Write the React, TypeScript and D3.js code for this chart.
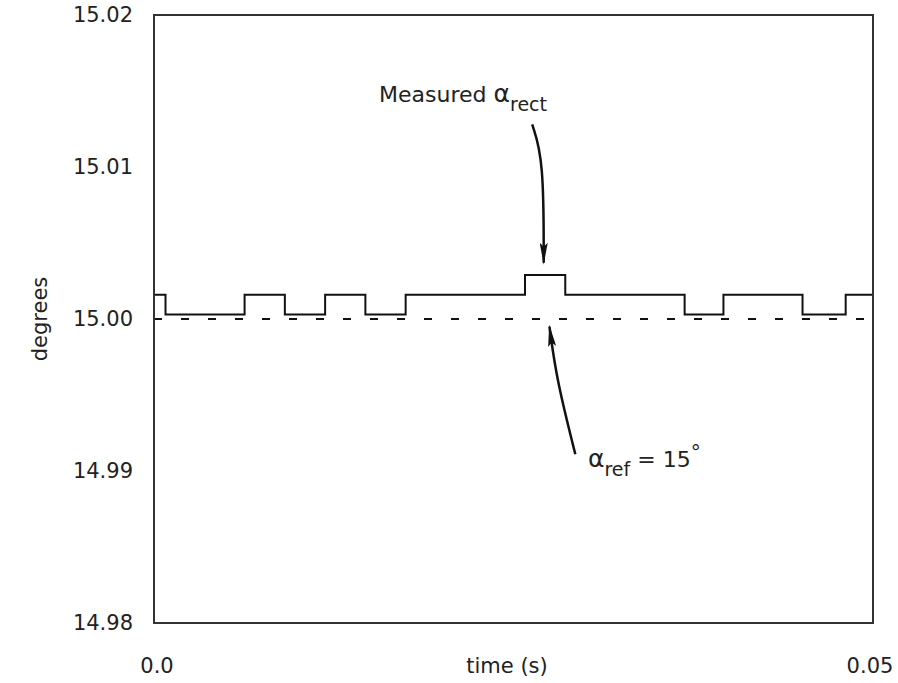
import React from 'react';
import * as d3 from 'd3';

// y axis ticks (degrees) and x axis ticks (seconds)
const yTicks = [15.02, 15.01, 15.0, 14.99, 14.98];
const yTickLabels = ['15.02', '15.01', '15.00', '14.99', '14.98'];
const xTicks = [0, 0.05];
const xTickLabels = ['0.0', '0.05'];

// measured alpha_rect: step changes (time of each change, level after it)
const stepTimes = [0, 0.0008, 0.0063, 0.0091, 0.0119, 0.0147, 0.0175, 0.0258, 0.0286, 0.0369, 0.0396, 0.0451, 0.0481, 0.05];
const stepValues = [15.0016, 15.0003, 15.0016, 15.0003, 15.0016, 15.0003, 15.0016, 15.0029, 15.0016, 15.0003, 15.0016, 15.0003, 15.0016, 15.0016];

// reference level
const refValue = 15.0;

// annotation arrows: [time, degrees] points, last one is the tip
const measuredArrow: [number, number][] = [[0.0263, 15.0128], [0.0271, 15.0105], [0.0271, 15.0037]];
const refArrow: [number, number][] = [[0.0293, 14.9911], [0.0280, 14.9960], [0.0275, 14.9995]];
const measuredLabelAt: [number, number] = [0.01565, 15.01428];
const refLabelAt: [number, number] = [0.03018, 14.99026];

const App = () => {
  const width = 898;
  const height = 683;
  const margin = { top: 15, right: 25, bottom: 60, left: 154 };

  const x = d3.scaleLinear().domain([0, 0.05]).range([margin.left, width - margin.right]);
  const y = d3.scaleLinear().domain([14.98, 15.02]).range([height - margin.bottom, margin.top]);

  const stepLine = d3.line<number>()
    .x((_, i) => x(stepTimes[i]))
    .y(d => y(d))
    .curve(d3.curveStepAfter);

  const arrowLine = d3.line<[number, number]>()
    .x(d => x(d[0]))
    .y(d => y(d[1]))
    .curve(d3.curveBasis);

  const font = '"DejaVu Sans", Verdana, sans-serif';
  const textColor = '#222';

  return (
    <svg width={width} height={height} style={{ position: 'absolute', left: 0, top: 0, background: '#fff' }}>
      <defs>
        <marker id="head" viewBox="0 0 22 8" refX="20" refY="4" markerWidth="22" markerHeight="8" orient="auto" markerUnits="userSpaceOnUse">
          <path d="M0,0 L22,4 L0,8 L4,4 Z" fill="#111" />
        </marker>
      </defs>

      {/* reference line */}
      <line x1={x(0)} x2={x(0.05)} y1={y(refValue)} y2={y(refValue)} stroke="#111" strokeWidth={2} strokeDasharray="8 19" />

      {/* measured alpha */}
      <path d={stepLine(stepValues) || ''} fill="none" stroke="#111" strokeWidth={2} />

      {/* frame */}
      <rect x={x(0)} y={y(15.02)} width={x(0.05) - x(0)} height={y(14.98) - y(15.02)} fill="none" stroke="#333" strokeWidth={2} />

      {/* y ticks */}
      {yTicks.map((t, i) => (
        <text key={t} x={133} y={y(t)} dy="0.35em" textAnchor="end" fontFamily={font} fontSize={21} fill={textColor}>{yTickLabels[i]}</text>
      ))}
      {/* x ticks */}
      {xTicks.map((t, i) => (
        <text key={t} x={x(t) + (i === 0 ? 3 : -3)} y={673} textAnchor="middle" fontFamily={font} fontSize={21} fill={textColor}>{xTickLabels[i]}</text>
      ))}

      <text x={507} y={673} textAnchor="middle" fontFamily={font} fontSize={21} fill={textColor}>time (s)</text>
      <text transform={`translate(47,${y(15.0)}) rotate(-90)`} textAnchor="middle" fontFamily={font} fontSize={21} fill={textColor}>degrees</text>

      {/* annotations */}
      <path d={arrowLine(measuredArrow) || ''} fill="none" stroke="#111" strokeWidth={2.5} markerEnd="url(#head)" />
      <path d={arrowLine(refArrow) || ''} fill="none" stroke="#111" strokeWidth={2.5} markerEnd="url(#head)" />

      <text x={x(measuredLabelAt[0])} y={y(measuredLabelAt[1])} fontFamily={font} fontSize={22} fill={textColor}>
        Measured <tspan fontSize={25}>α</tspan><tspan fontSize={19} dy={9}>rect</tspan>
      </text>
      <text x={x(refLabelAt[0])} y={y(refLabelAt[1])} fontFamily={font} fontSize={22} fill={textColor}>
        <tspan fontSize={25}>α</tspan><tspan fontSize={19} dy={9}>ref</tspan><tspan dy={-9}> = 15</tspan><tspan fontSize={20} dy={-8}>°</tspan>
      </text>
    </svg>
  );
};

export default App;
